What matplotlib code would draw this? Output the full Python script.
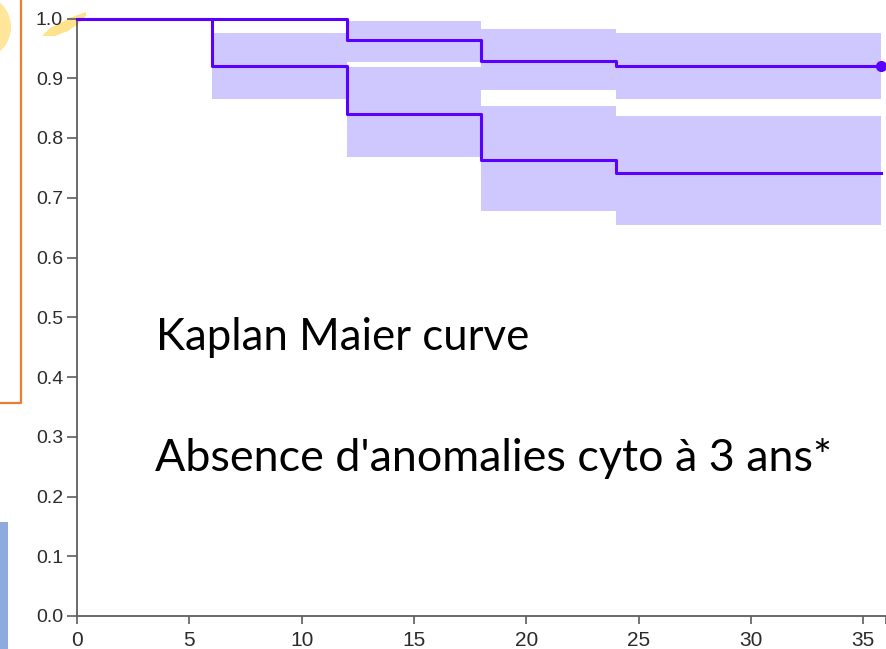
import numpy as np
import matplotlib
matplotlib.use("Agg")
import matplotlib.pyplot as plt
from matplotlib.lines import Line2D
from matplotlib.patches import Ellipse, Polygon, Rectangle

W, H = 887, 649

# survival steps (months) for the two groups
times = [0, 6, 12, 18, 24, 35.8]
surv_a = [1.0, 1.0, 0.964, 0.929, 0.920, 0.920]
surv_b = [1.0, 0.920, 0.841, 0.763, 0.741, 0.741]

# confidence bands, nan where no band is drawn
ci_a_lo = [np.nan, np.nan, 0.928, 0.881, 0.865, 0.865]
ci_a_hi = [np.nan, np.nan, 0.996, 0.982, 0.976, 0.976]
ci_b_lo = [np.nan, 0.865, 0.769, 0.678, 0.654, 0.654]
ci_b_hi = [np.nan, 0.976, 0.919, 0.854, 0.836, 0.836]

xticks = [0, 5, 10, 15, 20, 25, 30, 35]
yticks = [0.0, 0.1, 0.2, 0.3, 0.4, 0.5, 0.6, 0.7, 0.8, 0.9, 1.0]

line_col = "#5a00ff"
band_col = "#cec8ff"
axis_col = "#5e5e5e"


def px(x, y):
    # pixel position (top-left origin) -> figure fraction
    return x / W, 1 - y / H


fig = plt.figure(figsize=(W / 100, H / 100), dpi=100)
fig.patch.set_facecolor("white")
ax = fig.add_axes([77 / W, 33 / H, (885.6 - 77) / W, (616 - 18.5) / H])
ax.set_facecolor("none")

for lo, hi in [(ci_a_lo, ci_a_hi), (ci_b_lo, ci_b_hi)]:
    ax.fill_between(times, np.array(lo), np.array(hi), step="post",
                    color=band_col, lw=0, zorder=1)

ax.step(times, surv_a, where="post", color=line_col, lw=2.2, zorder=3, clip_on=False)
ax.step(times, surv_b, where="post", color=line_col, lw=2.2, zorder=3, clip_on=False)
ax.plot(times[-1], surv_a[-1], "o", color=line_col, ms=7, zorder=4, clip_on=False)

ax.set_xlim(0, 36)
ax.set_ylim(0, 1)
ax.set_xticks(xticks)
ax.set_xticks([36], minor=True)
ax.set_yticks(yticks)
ax.set_yticklabels(["%.1f" % v for v in yticks])

for s in ["top", "right"]:
    ax.spines[s].set_visible(False)
for s in ["left", "bottom"]:
    ax.spines[s].set_color(axis_col)
    ax.spines[s].set_linewidth(1.3)

ax.tick_params(axis="y", length=7, width=1.2, color=axis_col, pad=3,
               labelsize=14, labelcolor="#2b2b2b")
ax.tick_params(axis="x", which="both", length=6, width=1.2, color=axis_col, pad=5,
               labelsize=15, labelcolor="#2b2b2b")
for lab in ax.get_xticklabels() + ax.get_yticklabels():
    lab.set_fontfamily("Liberation Sans")


def fit_text(x, y, s, width):
    # put text with its baseline at (x, y) px and scale it to the given width
    t = fig.text(*px(x, y), s, fontfamily="Lato", fontsize=30, va="baseline",
                 ha="left", color="black")
    r = fig.canvas.get_renderer()
    w = t.get_window_extent(r).width
    t.set_fontsize(30 * width / w)
    return t


fit_text(156, 350, "Kaplan Maier curve", 372)
fit_text(155, 471, "Absence d'anomalies cyto à 3 ans*", 677)

# slide decorations along the left edge
xs, ys = zip(*[px(21, 0), px(21, 403), px(0, 403)])
fig.add_artist(Line2D(xs, ys, color="#ed7d31", lw=1.6))
fig.add_artist(Rectangle(px(0, 649), 8 / W, (649 - 522) / H, color="#8faadc", lw=0))
fig.add_artist(Ellipse(px(-20, 27), 62 / W, 64 / H, color="#ffd966", alpha=0.65,
                       lw=0, zorder=-1))
swoosh = [(42, 36), (50, 28), (62, 22), (72, 17), (86, 12),
          (86, 16), (78, 24), (68, 31), (55, 36)]
fig.add_artist(Polygon([px(*p) for p in swoosh], closed=True, color="#ffd966",
                       alpha=0.75, lw=0, zorder=-1))

fig.savefig("out.png", dpi=100)
